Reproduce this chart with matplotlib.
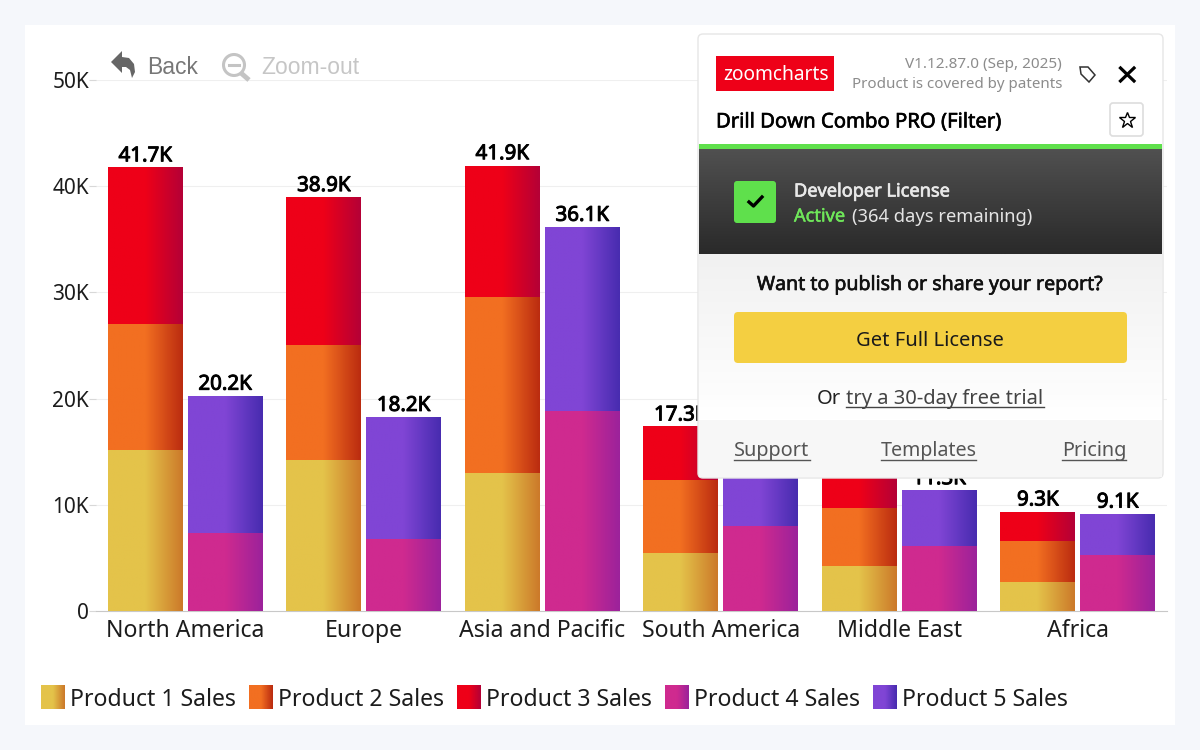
import numpy as np
import matplotlib
matplotlib.use('Agg')
import matplotlib.pyplot as plt
import matplotlib.patheffects as pe
from matplotlib.colors import LinearSegmentedColormap
from matplotlib.patches import FancyBboxPatch, Rectangle, Circle, Polygon
from matplotlib.ticker import FuncFormatter

plt.rcParams['font.family'] = ['Noto Sans', 'DejaVu Sans']

regions = ['North America', 'Europe', 'Asia and Pacific', 'South America', 'Middle East', 'Africa']
series_names = ['Product 1 Sales', 'Product 2 Sales', 'Product 3 Sales', 'Product 4 Sales', 'Product 5 Sales']

# left column of each region
product1 = [15200, 14200, 13000, 5500, 4200, 2700]
product2 = [11800, 10800, 16600, 6800, 5500, 3900]
product3 = [14700, 13900, 12300, 5000, 6100, 2700]
# right column of each region (South America top is hidden by the panel, estimated)
product4 = [7300, 6800, 18800, 8000, 6100, 5300]
product5 = [12900, 11400, 17300, 7400, 5200, 3800]

# empty = label sits fully behind the license panel
left_labels = ['41.7K', '38.9K', '41.9K', '17.3K', '', '9.3K']
right_labels = ['20.2K', '18.2K', '36.1K', '', '11.3K', '9.1K']

y_ticks = [0, 10000, 20000, 30000, 40000, 50000]

colors = ['#e4c34a', '#f26f21', '#ee0018', '#cf2a8f', '#8045d5']
dark_colors = ['#cc7a2a', '#bb2c10', '#b50036', '#9c229b', '#482cb0']


def gradient_cmap(c1, c2):
    return LinearSegmentedColormap.from_list('g', [(0, c1), (0.5, c1), (1, c2)])


def fill_gradient(target_ax, patch, cmap, zorder):
    # paint a horizontal gradient over a bar
    x0, w = patch.get_x(), patch.get_width()
    y0, h = patch.get_y(), patch.get_height()
    target_ax.imshow(np.linspace(0, 1, 64).reshape(1, -1), cmap=cmap, aspect='auto',
                     extent=(x0, x0 + w, y0, y0 + h), zorder=zorder, interpolation='bilinear')


def heavy(width):
    # fake the bold weight, the installed Noto Sans has only one weight
    return [pe.withStroke(linewidth=width, foreground='black')]


def heavy_c(width, color):
    return [pe.withStroke(linewidth=width, foreground=color)]


fig = plt.figure(figsize=(12, 7.5), dpi=100, facecolor='#f5f7fb')

# white page behind chart
bg = fig.add_axes([0, 0, 1, 1], zorder=0)
bg.set_xlim(0, 1200)
bg.set_ylim(750, 0)
bg.axis('off')
bg.add_patch(Rectangle((25, 25), 1150, 700, fc='white', ec='none'))

# 1. Chart
ax = fig.add_axes([96 / 1200, 139 / 750, 1071 / 1200, 531 / 750], zorder=1)
ax.patch.set_alpha(0)
x = np.arange(len(regions))
bar_w = 0.42
offset = 0.224


def stack(xpos, layers, idx):
    bottom = np.zeros(len(regions))
    for vals, i in zip(layers, idx):
        bars = ax.bar(xpos, vals, bar_w, bottom=bottom, facecolor='none', edgecolor='none', zorder=3)
        cmap = gradient_cmap(colors[i], dark_colors[i])
        for b in bars:
            fill_gradient(ax, b, cmap, 3)
        bottom = bottom + np.array(vals)
    return bottom


left_tot = stack(x - offset, [product1, product2, product3], [0, 1, 2])
right_tot = stack(x + offset, [product4, product5], [3, 4])

for px, tot, lab in list(zip(x - offset, left_tot, left_labels)) + list(zip(x + offset, right_tot, right_labels)):
    if lab:
        ax.text(px, tot + 170, lab, ha='center', va='bottom', fontsize=14.8, color='black', zorder=4,
                path_effects=heavy(0.7))

ax.set_xlim(-0.5, 5.5)
ax.set_ylim(0, 50000)
ax.set_xticks(x)
ax.set_xticklabels(regions, fontsize=16.6, color='#1c1c1c')
ax.set_yticks(y_ticks)
ax.yaxis.set_major_formatter(FuncFormatter(lambda v, p: '0' if v == 0 else f'{int(v / 1000)}K'))
ax.tick_params(axis='x', length=0, pad=6)
ax.tick_params(axis='y', length=5, width=0.8, color='#d8d8d8', labelsize=15, labelcolor='#1c1c1c', pad=0)
ax.grid(axis='y', color='#efefef', lw=0.8, zorder=0)
ax.set_axisbelow(True)
for s in ['top', 'right', 'left']:
    ax.spines[s].set_visible(False)
ax.spines['bottom'].set_color('#c8c8c8')

# 2. Overlay drawn in pixel coordinates
ov = fig.add_axes([0, 0, 1, 1], zorder=2)
ov.patch.set_alpha(0)
ov.set_xlim(0, 1200)
ov.set_ylim(750, 0)
ov.axis('off')

# legend
swatch_x = [41, 249, 457, 665, 873]
for sx, name, c1, c2 in zip(swatch_x, series_names, colors, dark_colors):
    ov.imshow(np.linspace(0, 1, 32).reshape(1, -1), cmap=gradient_cmap(c1, c2), aspect='auto',
              extent=(sx, sx + 24, 709, 685), zorder=3)
    ov.text(sx + 29, 697, name, fontsize=16.6, va='center_baseline', color='#1c1c1c')

# Back / Zoom-out buttons
ov.add_patch(Polygon([(111, 62), (122, 51), (122, 57), (129, 58), (134, 64), (135, 72), (132, 78),
                      (130, 70), (126, 67), (122, 67), (122, 73)], fc='#666666', ec='none'))
ov.text(147, 65.5, 'Back', fontsize=16.5, color='#777777', va='center_baseline', family='Liberation Sans')
ov.add_patch(Circle((234, 65), 10.5, fc='none', ec='#c4c4c4', lw=2.2))
ov.plot([241, 249], [73, 80], color='#c4c4c4', lw=3.5, solid_capstyle='butt')
ov.plot([229, 239], [65, 65], color='#c4c4c4', lw=2.2)
ov.text(261, 65.5, 'Zoom-out', fontsize=16.5, color='#c6c6c6', va='center_baseline', family='Liberation Sans')

# license panel
panel = FancyBboxPatch((698, 34), 465, 444, boxstyle='round,pad=0,rounding_size=5',
                       fc='white', ec='#e6e6e6', lw=1.0, zorder=5)
ov.add_patch(panel)
light = LinearSegmentedColormap.from_list('l', ['#f1f1f1', '#ffffff'])
ov.imshow(np.linspace(0, 1, 64).reshape(-1, 1), cmap=light, aspect='auto',
          extent=(699, 1162, 420, 254), zorder=5.1)
ov.add_patch(Rectangle((699, 420), 463, 57, fc='#f7f7f7', ec='none', zorder=5.1))
dark = LinearSegmentedColormap.from_list('d', ['#505050', '#2a2a2a'])
ov.imshow(np.linspace(0, 1, 64).reshape(-1, 1), cmap=dark, aspect='auto',
          extent=(699, 1162, 254, 149), zorder=5.1)
ov.add_patch(Rectangle((699, 144), 463, 5, fc='#5fe04c', ec='none', zorder=5.2))

ov.add_patch(Rectangle((716, 56), 118, 35, fc='#ee0018', ec='none', zorder=6))
ov.text(776, 72.5, 'zoomcharts', fontsize=13.8, color='white', ha='center', va='center_baseline', zorder=7)
ov.text(1062, 63, 'V1.12.87.0 (Sep, 2025)', fontsize=11, color='#8c8c8c', ha='right',
        va='center_baseline', zorder=7)
ov.text(1062, 82, 'Product is covered by patents', fontsize=10.9, color='#8c8c8c', ha='right',
        va='center_baseline', zorder=7)

# tag icon, close, star
ov.add_patch(Polygon([(1080, 67), (1088, 67), (1095, 75), (1089, 82), (1081, 74)],
                     fc='white', ec='#333333', lw=1.1, zorder=7))
ov.plot([1120.5, 1134], [68, 81], color='black', lw=2.3, zorder=7)
ov.plot([1134, 1120.5], [68, 81], color='black', lw=2.3, zorder=7)
ov.add_patch(FancyBboxPatch((1110, 103), 33, 33, boxstyle='round,pad=0,rounding_size=3',
                            fc='white', ec='#dddddd', lw=1.2, zorder=6))
ov.plot([1127], [120], marker='*', ms=12, mfc='white', mec='black', mew=1.0, zorder=7)

ov.text(716, 120, 'Drill Down Combo PRO (Filter)', fontsize=14.6, color='black',
        va='center_baseline', zorder=7, path_effects=heavy(0.45))

# license status
ov.add_patch(FancyBboxPatch((734, 181), 42, 42, boxstyle='round,pad=0,rounding_size=3',
                            fc='#5fe04c', ec='none', zorder=6))
ov.plot([749, 753.5, 762], [202, 206, 197], color='black', lw=2.4, zorder=7)
ov.text(794, 189.5, 'Developer License', fontsize=13.1, color='#e8e8e8',
        va='center_baseline', zorder=7, path_effects=heavy_c(0.5, '#e8e8e8'))
ov.text(794, 214.5, 'Active', fontsize=13.1, color='#6fe65a', va='center_baseline', zorder=7,
        path_effects=heavy_c(0.35, '#6fe65a'))
ov.text(852, 214.5, '(364 days remaining)', fontsize=13.2, color='#e4e4e4', va='center_baseline', zorder=7)

ov.text(930, 282.5, 'Want to publish or share your report?', fontsize=14.1, color='#111111',
        ha='center', va='center_baseline', zorder=7, path_effects=heavy_c(0.45, '#111111'))
ov.add_patch(FancyBboxPatch((734, 312), 393, 51, boxstyle='round,pad=0,rounding_size=4',
                            fc='#f4cf41', ec='none', zorder=6))
ov.text(930, 338, 'Get Full License', fontsize=14.5, color='#1a1a1a', ha='center', va='center_baseline', zorder=7)

ov.text(817, 396.5, 'Or', fontsize=14.5, color='#222222', va='center_baseline', zorder=7)
ov.text(846, 396.5, 'try a 30-day free trial', fontsize=14.5, color='#444444', va='center_baseline', zorder=7)
ov.plot([846, 1044], [407, 407], color='#444444', lw=1, zorder=7)

ov.text(734, 448.5, 'Support', fontsize=14.3, color='#555555', va='center_baseline', zorder=7)
ov.plot([734, 810], [460, 460], color='#555555', lw=1, zorder=7)
ov.text(881, 448.5, 'Templates', fontsize=14.1, color='#555555', va='center_baseline', zorder=7)
ov.plot([881, 976], [460, 460], color='#555555', lw=1, zorder=7)
ov.text(1062, 448.5, 'Pricing', fontsize=14.3, color='#555555', va='center_baseline', zorder=7)
ov.plot([1062, 1126], [460, 460], color='#555555', lw=1, zorder=7)

ov.set_xlim(0, 1200)
ov.set_ylim(750, 0)

fig.savefig('out.png', dpi=100, facecolor=fig.get_facecolor())
